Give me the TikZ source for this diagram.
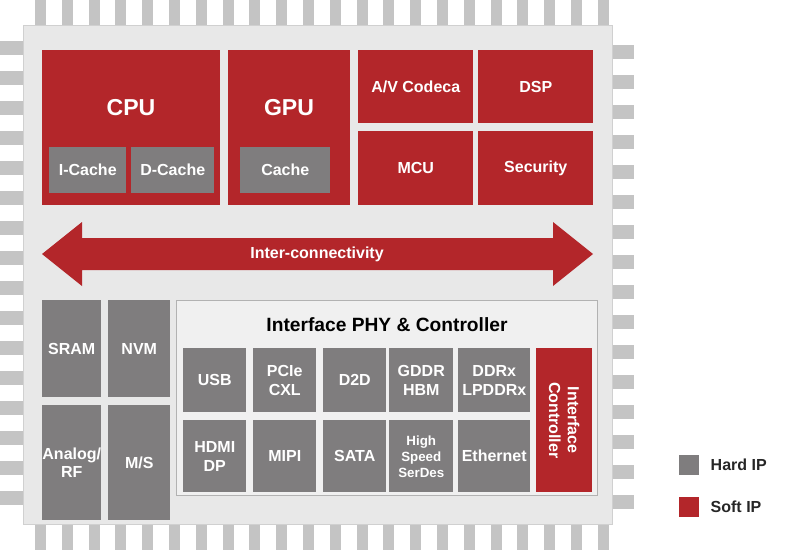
\documentclass[tikz,border=0pt]{standalone}
\usepackage{fontspec}
\setmainfont{Liberation Sans}
\definecolor{sred}{HTML}{B3262A}
\definecolor{hgray}{HTML}{7F7D7E}
\definecolor{pincol}{HTML}{C4C4C4}
\definecolor{chip}{HTML}{E8E8E8}
\definecolor{panel}{HTML}{F0F0F0}
\newcommand\bx[7]{\node[#1,minimum width=0.75*#5pt,minimum height=0.75*#6pt,anchor=north west] (#2) at (#3,#4) {#7};}
\begin{document}
\begin{tikzpicture}[x=0.75pt,y=-0.75pt,
  blk/.style={draw=none,inner sep=0pt,text=white,font=\bfseries\large,align=center},
  red/.style={blk,fill=sred},
  gry/.style={blk,fill=hgray}]
\useasboundingbox (0,0) rectangle (800,550);
% pins
\foreach \i in {0,...,21}{
  \fill[pincol] ({35+26.8*\i},0) rectangle ({46+26.8*\i},26);
  \fill[pincol] ({35+26.8*\i},522) rectangle ({46+26.8*\i},550);}
\foreach \i in {0,...,15}{
  \fill[pincol] (0,{41+30*\i}) rectangle (25,{55+30*\i});
  \fill[pincol] (610,{45+30*\i}) rectangle (634,{59+30*\i});}
\bx{draw=pincol!80,fill=chip,inner sep=0pt}{chip}{23}{25}{589}{499}{}
% top blocks
\bx{red}{cpu}{42}{50}{178}{155}{}
\node[font=\bfseries\LARGE,text=white] (cput) at (131,108) {CPU};
\bx{gry}{ic}{49}{147}{77}{46}{I-Cache}
\bx{gry}{dc}{131}{147}{83}{46}{D-Cache}
\bx{red}{gpu}{228}{50}{122}{155}{}
\node[font=\bfseries\LARGE,text=white] (gput) at (289,108) {GPU};
\bx{gry}{gc}{240}{147}{90}{46}{Cache}
\bx{red}{av}{358}{50}{115}{73}{A/V Codeca}
\bx{red}{dsp}{478}{50}{115}{73}{DSP}
\bx{red}{mcu}{358}{131}{115}{74}{MCU}
\bx{red}{sec}{478}{131}{115}{74}{Security}
% arrow
\fill[sred] (42,254) -- (82,222) -- (82,238) -- (553,238) -- (553,222) -- (593,254) -- (553,286) -- (553,270) -- (82,270) -- (82,286) -- cycle;
\node[blk] (icn) at (317,254) {Inter-connectivity};
% bottom left
\bx{gry}{sram}{42}{300}{59}{97}{SRAM}
\bx{gry}{nvm}{108}{300}{62}{97}{NVM}
\bx{gry}{an}{42}{405}{59}{115}{Analog/\\RF}
\bx{gry}{ms}{108}{405}{62}{115}{M/S}
% panel
\bx{draw=gray!60,fill=panel,inner sep=0pt}{pan}{176}{300}{421}{195}{}
\node[font=\bfseries\Large] (pt) at (387,325) {Interface PHY \& Controller};
\bx{gry}{usb}{183}{348}{63}{64}{USB}
\bx{gry}{pcie}{253}{348}{63}{64}{PCIe\\CXL}
\bx{gry}{d2d}{323}{348}{63}{64}{D2D}
\bx{gry}{gddr}{389}{348}{64}{64}{GDDR\\HBM}
\bx{gry}{ddr}{458}{348}{72}{64}{DDRx\\LPDDRx}
\bx{gry}{hdmi}{183}{420}{63}{72}{HDMI\\DP}
\bx{gry}{mipi}{253}{420}{63}{72}{MIPI}
\bx{gry}{sata}{323}{420}{63}{72}{SATA}
\bx{gry,font=\bfseries}{hs}{389}{420}{64}{72}{High\\Speed\\SerDes}
\bx{gry}{eth}{458}{420}{72}{72}{Ethernet}
\bx{red}{ctl}{536}{348}{56}{144}{}
\node[blk,rotate=-90] (ctlt) at (ctl.center) {Interface\\Controller};
% legend
\node[fill=hgray,minimum size=0.75*20pt,inner sep=0pt] (lh) at (689,465) {};
\node[fill=sred,minimum size=0.75*20pt,inner sep=0pt] (ls) at (689,507) {};
\node[font=\bfseries\large,text=black!85,anchor=west] (lht) at (706,465) {Hard IP};
\node[font=\bfseries\large,text=black!85,anchor=west] (lst) at (706,507) {Soft IP};
\end{tikzpicture}
\end{document}
